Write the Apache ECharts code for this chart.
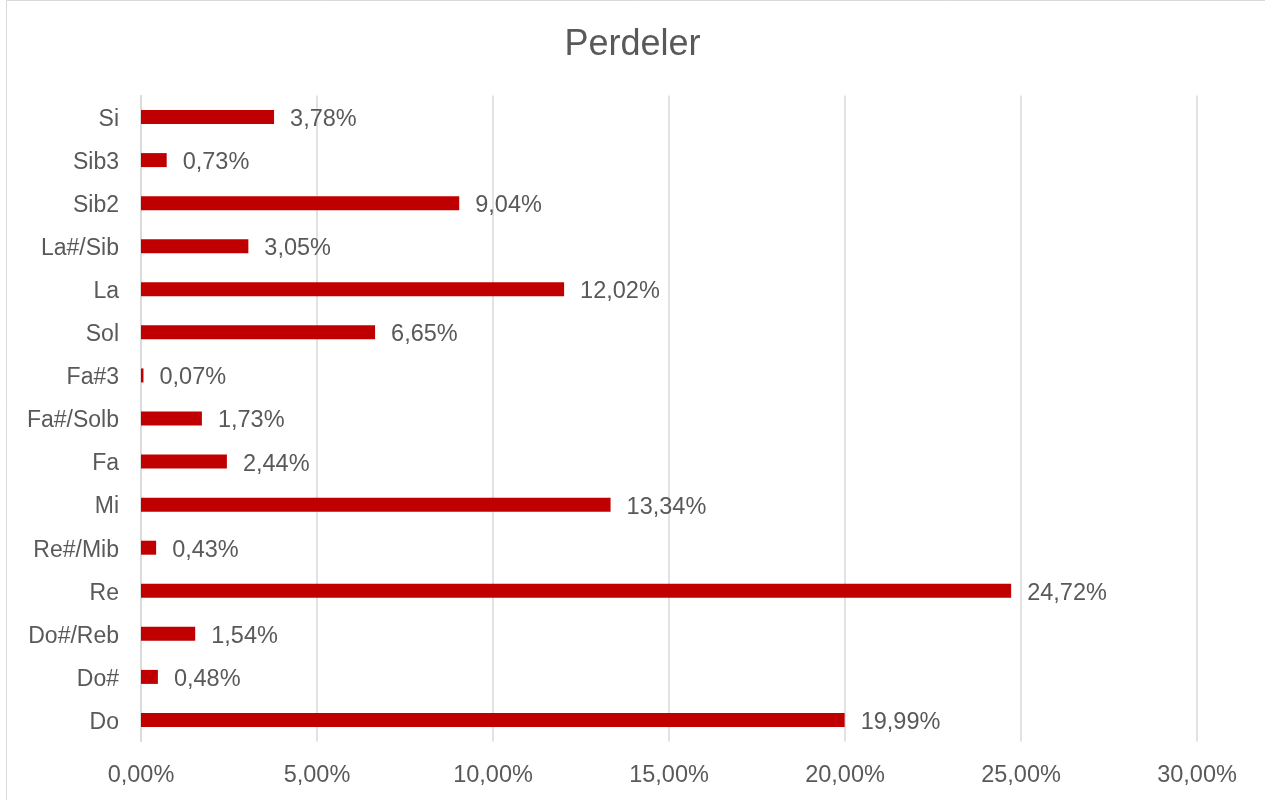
<!DOCTYPE html>
<html>
<head>
<meta charset="utf-8">
<script src="https://cdn.jsdelivr.net/npm/echarts@6/dist/echarts.min.js"></script>
<style>html,body{margin:0;padding:0;background:#fff;}#c{width:1265px;height:800px;}</style>
</head>
<body>
<div id="c"></div>
<script>
const categories = ['Do', 'Do#', 'Do#/Reb', 'Re', 'Re#/Mib', 'Mi', 'Fa', 'Fa#/Solb', 'Fa#3', 'Sol', 'La', 'La#/Sib', 'Sib2', 'Sib3', 'Si'];
const values = [19.99, 0.48, 1.54, 24.72, 0.43, 13.34, 2.44, 1.73, 0.07, 6.65, 12.02, 3.05, 9.04, 0.73, 3.78];
const fmt = v => v.toFixed(2).replace('.', ',') + '%';

const chart = echarts.init(document.getElementById('c'));
chart.setOption({
  animation: false,
  textStyle: { fontFamily: 'Liberation Sans, Arial, sans-serif' },
  graphic: [{
    type: 'rect', shape: { x: 6.5, y: 0.5, width: 1270, height: 810 },
    style: { fill: 'none', stroke: '#d9d9d9', lineWidth: 1 }, silent: true
  }],
  title: {
    text: 'Perdeler', left: 'center', top: 22,
    textStyle: { fontSize: 36, fontWeight: 'normal', color: '#595959', fontFamily: 'Liberation Sans, Arial, sans-serif' }
  },
  grid: { left: 141, right: 68, top: 95.5, bottom: 58.5, containLabel: false },
  xAxis: {
    type: 'value', min: 0, max: 30, interval: 5,
    axisLine: { show: false }, axisTick: { show: false },
    splitLine: { lineStyle: { color: '#d9d9d9', width: 1.5 } },
    axisLabel: { formatter: fmt, fontSize: 23.5, color: '#595959', margin: 22 }
  },
  yAxis: {
    type: 'category', data: categories,
    axisLine: { lineStyle: { color: '#d9d9d9', width: 1.5 } }, axisTick: { show: false },
    axisLabel: { fontSize: 23, color: '#595959', margin: 22, verticalAlign: 'top', lineHeight: 5 }
  },
  series: [{
    type: 'bar', data: values, barWidth: 14,
    itemStyle: { color: '#c00000' },
    label: { show: true, position: 'right', distance: 16, formatter: p => fmt(p.value), fontSize: 23.5, color: '#595959', verticalAlign: 'top', lineHeight: 5 }
  }]
});
</script>
</body>
</html>
